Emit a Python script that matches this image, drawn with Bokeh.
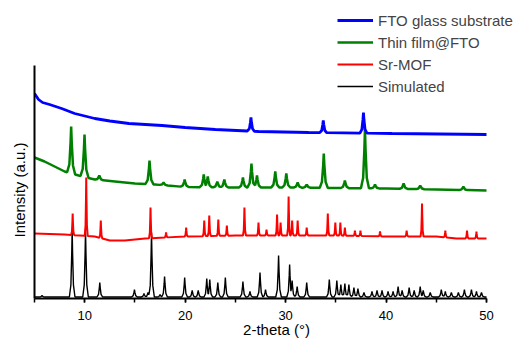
import numpy as np
from bokeh.plotting import figure
from bokeh.models import Range1d, SingleIntervalTicker, FixedTicker, Legend, LegendItem, Title
from bokeh.embed import file_html
from bokeh.resources import INLINE

# ---------------- data ----------------
x_start, x_end = 5, 50
y_axis_start, y_axis_end = 0, 233   # extent of the drawn intensity axis

# Simulated pattern (black)
sim_knot_x = [5, 50]
sim_knot_y = [1.5, 1.5]
sim_pos = [5.75, 8.75, 10.08, 11.5, 14.95, 15.9, 16.3, 16.65, 17.5, 17.95, 19.95, 20.7, 21.3,
           22.15, 22.45, 23.25, 24.0, 25.75, 26.45, 27.45, 28.0, 29.3, 30.4, 30.65, 31.15,
           32.1, 34.35, 35.1, 35.5, 35.9, 36.3, 36.8, 37.2, 37.8, 38.6, 39.1, 39.6, 40.2,
           40.7, 41.2, 41.6, 42.3, 42.8, 43.4, 43.7, 44.4, 45.5, 45.9, 46.5, 47.2, 47.8,
           48.5, 49.0, 49.5]
sim_top = [3, 69, 69, 16, 9, 5, 6, 66, 4, 22, 21, 8, 8,
           20, 19, 16, 21, 17, 7, 26, 9, 43, 34, 18, 12,
           16, 19, 18, 14, 15, 14, 11, 10, 6, 7, 8, 8, 7,
           7, 12, 8, 11, 8, 12, 8, 6, 9, 7, 6, 6, 9,
           9, 7, 6]

# Sr-MOF (red)
mof_knot_x = [5, 8, 11, 12.5, 14, 16, 18, 20, 25, 30, 35, 40, 45, 47, 50]
mof_knot_y = [65, 64, 62, 58, 58, 60, 61, 62, 63, 63, 63, 62, 62, 60, 60]
mof_pos = [8.8, 10.15, 11.6, 16.55, 18.1, 20.1, 21.9, 22.4, 23.3, 24.15, 25.9, 27.3, 28.1,
           29.15, 29.5, 30.3, 30.65, 31.2, 32.1, 34.2, 34.95, 35.45, 35.9, 36.9, 37.45,
           39.4, 42.05, 43.58, 45.9, 48.06, 49.0]
mof_top = [85, 121, 78, 91, 66, 71, 78, 83, 79, 73, 91, 76, 69,
           84, 76, 102, 78, 78, 71, 85, 76, 76, 71, 68, 68,
           67, 68, 95, 68, 68, 67]

# Thin film@FTO (green)
film_knot_x = [5, 6, 7, 8, 9.4, 11, 13, 15, 17, 20, 25, 30, 35, 40, 45, 50]
film_knot_y = [141, 137, 132, 127, 123, 119, 117, 115, 114, 111.5, 111, 111, 110.5, 110, 109, 108]
film_pos = [8.65, 9.98, 11.45, 16.45, 17.85, 19.95, 21.85, 22.25, 23.2, 23.9, 25.75, 26.6,
            27.15, 28.97, 30.07, 31.2, 32.1, 33.8, 35.9, 37.9, 38.9, 41.75, 43.4, 47.7]
film_top = [172, 164, 123, 138, 116, 119, 124, 122, 117, 119, 121, 135,
            123, 127, 125, 116, 114, 145, 118, 169, 114, 115, 113, 112]

# FTO glass substrate (blue)
fto_knot_x = [5, 5.4, 5.8, 6.5, 7.7, 9, 11, 12.5, 14.4, 17.7, 20, 23, 27.3, 32.3, 40.6, 50]
fto_knot_y = [205, 199, 196, 194, 190, 185, 180, 177.5, 175, 173, 171, 169, 167, 166, 165, 164]
fto_pos = [26.55, 33.75, 37.75]
fto_top = [181, 178, 186]

# ---------------- rendering helpers ----------------
SHAPE_DX = [-1.0, -0.45, -0.15, 0.0, 0.15, 0.45, 1.0]
SHAPE_F = [0.0, 0.18, 0.65, 1.0, 0.65, 0.18, 0.0]


def trace(knot_x, knot_y, pos, top, w):
    kx = np.asarray(knot_x, float)
    ky = np.asarray(knot_y, float)
    xs = set(kx.tolist())
    for p in pos:
        for d in SHAPE_DX:
            xs.add(round(p + d * w, 4))
    xs = np.array(sorted(x for x in xs if x_start <= x <= x_end))
    base = np.interp(xs, kx, ky)
    ys = base.copy()
    for p, t in zip(pos, top):
        b0 = np.interp(p, kx, ky)
        px = [p + d * w for d in SHAPE_DX]
        prof = np.interp(xs, px, SHAPE_F, left=0, right=0)
        ys = np.maximum(ys, base + (t - b0) * prof)
    return xs, ys


# frame: 452 px for the 5-50 axis, extended to the right so the legend is not clipped
FRAME_W, AXIS_W = 484, 452
x_view_end = x_start + (x_end - x_start) * FRAME_W / AXIS_W

p = figure(frame_width=FRAME_W, frame_height=290,
           min_border_left=34, min_border_right=0, min_border_top=8, min_border_bottom=37,
           x_range=Range1d(x_start, x_view_end), y_range=Range1d(0, 290),
           output_backend="svg", toolbar_location=None)
p.outline_line_color = None
p.xgrid.grid_line_color = None
p.ygrid.grid_line_color = None
p.background_fill_color = "white"
p.border_fill_color = "white"

sx, sy = trace(sim_knot_x, sim_knot_y, sim_pos, sim_top, 0.28)
mx, my = trace(mof_knot_x, mof_knot_y, mof_pos, mof_top, 0.15)
gx, gy = trace(film_knot_x, film_knot_y, film_pos, film_top, 0.4)
bx, by = trace(fto_knot_x, fto_knot_y, fto_pos, fto_top, 0.35)

r_sim = p.line(sx, sy, line_color="black", line_width=1.4)
r_mof = p.line(mx, my, line_color="#ff0000", line_width=2.0)
r_film = p.line(gx, gy, line_color="#008000", line_width=2.5)
r_fto = p.line(bx, by, line_color="#0000ff", line_width=2.8)

font = "Liberation Sans"
p.xaxis.ticker = SingleIntervalTicker(interval=10, num_minor_ticks=2)
p.xaxis.bounds = (x_start, x_end)
p.xaxis.axis_label = "2-theta (°)"
for ax in (p.xaxis, p.yaxis):
    ax.axis_line_width = 2
    ax.axis_line_color = "black"
    ax.axis_label_text_font = font
    ax.axis_label_text_font_size = "15px"
    ax.axis_label_text_font_style = "normal"
    ax.axis_label_text_color = "black"
    ax.major_label_text_font = font
    ax.major_label_text_font_size = "13px"
    ax.major_label_text_color = "black"
p.xaxis.major_tick_in = 0
p.xaxis.major_tick_out = 4
p.xaxis.minor_tick_in = 0
p.xaxis.minor_tick_out = 4
p.xaxis.major_tick_line_width = 1.5
p.xaxis.minor_tick_line_width = 1.5
p.xaxis.major_label_standoff = 8
p.xaxis.axis_label_standoff = -2
p.yaxis.ticker = FixedTicker(ticks=[])
p.yaxis.bounds = (y_axis_start, y_axis_end)
p.yaxis.major_tick_line_color = None
p.yaxis.minor_tick_line_color = None

# y title placed along the drawn part of the axis
p.add_layout(Title(text="Intensity (a.u.)", align="left", offset=61, standoff=14,
                   text_font=font, text_font_size="15px", text_font_style="normal",
                   text_color="black"), "left")

legend = Legend(items=[LegendItem(label="FTO glass substrate", renderers=[r_fto]),
                       LegendItem(label="Thin film@FTO", renderers=[r_film]),
                       LegendItem(label="Sr-MOF", renderers=[r_mof]),
                       LegendItem(label="Simulated", renderers=[r_sim])],
                location=(303, 202), padding=0, margin=0, spacing=2,
                glyph_width=36, glyph_height=20, label_height=20, label_standoff=5,
                label_text_font=font, label_text_font_size="15px",
                border_line_color=None, background_fill_alpha=0)
p.add_layout(legend)

open("out.html", "w").write(file_html(p, INLINE))
